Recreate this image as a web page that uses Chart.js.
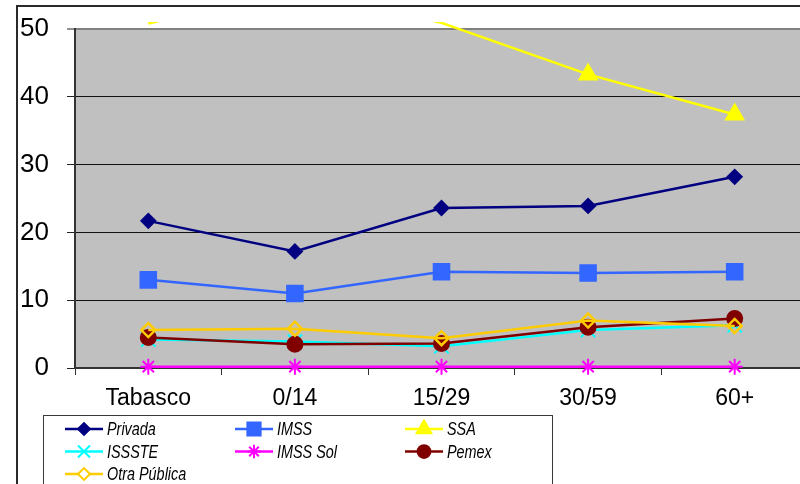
<!DOCTYPE html>
<html>
<head>
<meta charset="utf-8">
<script src="https://cdn.jsdelivr.net/npm/chart.js@4/dist/chart.umd.min.js"></script>
<style>
  html, body { margin: 0; padding: 0; background: #fff; overflow: hidden; width: 800px; height: 484px; }
  canvas { display: block; }
</style>
</head>
<body>
<canvas id="c" width="830" height="484"></canvas>
<script>
// Age groups on the horizontal axis
const categories = ['Tabasco', '0/14', '15/29', '30/59', '60+'];

// Share (%) by institution
const privada     = [21.7, 17.2, 23.6, 23.9, 28.2];
const imss        = [13.0, 11.0, 14.2, 14.0, 14.2];
const ssa         = [50.8, 56.0, 50.9, 43.3, 37.4];
const issste      = [4.2, 3.9, 3.2, 5.6, 6.3];
const imssSol     = [0.2, 0.2, 0.2, 0.2, 0.2];
const pemex       = [4.5, 3.5, 3.6, 6.0, 7.3];
const otraPublica = [5.6, 5.8, 4.4, 7.0, 6.2];

const yMin = 0, yMax = 50, yStep = 10;

const FONT = '"Liberation Sans", Arial, sans-serif';

const series = [
  { label: 'Privada',      data: privada,     color: '#000080', fill: '#000080', style: 'rectRot',  r: 7 },
  { label: 'IMSS',         data: imss,        color: '#3366FF', fill: '#3366FF', style: 'rect',     r: 11 },
  { label: 'SSA',          data: ssa,         color: '#FFFF00', fill: '#FFFF00', style: 'triangle', r: 10 },
  { label: 'ISSSTE',       data: issste,      color: '#00FFFF', fill: '#00FFFF', style: 'crossRot', r: 10 },
  { label: 'IMSS Sol',     data: imssSol,     color: '#FF00FF', fill: '#FF00FF', style: 'star',     r: 8 },
  { label: 'Pemex',        data: pemex,       color: '#800000', fill: '#800000', style: 'circle',   r: 7.5 },
  { label: 'Otra Pública', data: otraPublica, color: '#FFCC00', fill: 'rgba(0,0,0,0)', style: 'rectRot', r: 7 }
];

const datasets = series.map((s, i) => ({
  label: s.label,
  data: s.data,
  borderColor: s.color,
  backgroundColor: s.fill,
  borderWidth: 2.5,
  pointStyle: s.style,
  // points beyond the top of the value axis get no marker, only the clipped line
  pointRadius: ctx => (ctx.raw > yMax ? 0 : s.r),
  pointHoverRadius: s.r,
  pointBorderColor: s.color,
  pointBackgroundColor: s.fill,
  pointBorderWidth: s.style === 'rectRot' && s.fill !== s.color ? 2.5 : 2,
  tension: 0,
  fill: false,
  order: series.length - i,
  clip: { left: 10, top: 7, right: 10, bottom: 10 }
}));

// Frame, grey plot area and the boxed three-column legend
const decor = {
  id: 'decor',
  beforeDraw(chart) {
    const { ctx, chartArea: a } = chart;
    ctx.save();
    ctx.fillStyle = '#ffffff';
    ctx.fillRect(0, 0, chart.width, chart.height);
    ctx.strokeStyle = '#2a2a2a';
    ctx.lineWidth = 2;
    ctx.strokeRect(17, 6, chart.width + 20, chart.height + 20);
    ctx.fillStyle = '#C0C0C0';
    ctx.fillRect(a.left, a.top, a.right - a.left, a.bottom - a.top);
    ctx.restore();
  },
  afterDraw(chart) {
    const { ctx } = chart;
    ctx.save();
    ctx.fillStyle = '#ffffff';
    ctx.fillRect(43, 415, 509, 80);
    ctx.strokeStyle = '#3a3a3a';
    ctx.lineWidth = 1;
    ctx.strokeRect(43.5, 415.5, 509, 80);

    const colX = [65, 235, 405];
    const rowY = [429, 451.5, 474];
    chart.data.datasets.forEach((ds, i) => {
      const x = colX[i % 3];
      const y = rowY[Math.floor(i / 3)];
      ctx.strokeStyle = ds.borderColor;
      ctx.lineWidth = 2.5;
      ctx.beginPath();
      ctx.moveTo(x, y);
      ctx.lineTo(x + 38, y);
      ctx.stroke();
      const s = series[i];
      ctx.fillStyle = s.fill === 'rgba(0,0,0,0)' ? '#ffffff' : s.fill;
      ctx.strokeStyle = ds.borderColor;
      ctx.lineWidth = 2;
      Chart.helpers.drawPoint(ctx, { pointStyle: s.style, radius: s.r * 0.85, rotation: 0, borderWidth: 2 }, x + 19, y);
      // condensed italic legend text
      ctx.save();
      ctx.translate(x + 42, y + 1);
      ctx.scale(0.8, 1);
      ctx.fillStyle = '#000';
      ctx.font = 'italic 18px ' + FONT;
      ctx.textAlign = 'left';
      ctx.textBaseline = 'middle';
      ctx.fillText(ds.label, 0, 0);
      ctx.restore();
    });
    ctx.restore();
  }
};

new Chart(document.getElementById('c'), {
  type: 'line',
  data: { labels: categories, datasets },
  plugins: [decor],
  options: {
    responsive: false,
    devicePixelRatio: 1,
    animation: false,
    layout: { autoPadding: false, padding: { top: 29, right: 22, left: 0, bottom: 0 } },
    plugins: { legend: { display: false }, tooltip: { enabled: false } },
    scales: {
      x: {
        type: 'category',
        offset: true,
        afterFit: s => { s.height = 116; s.paddingLeft = 0; s.paddingRight = 0; },
        grid: { offset: true, drawOnChartArea: false, drawTicks: true, tickLength: 7, color: '#333', lineWidth: 1 },
        border: { display: true, color: '#333', width: 2 },
        ticks: { color: '#000', font: { family: FONT, size: 23 }, padding: 10, maxRotation: 0, autoSkip: false }
      },
      y: {
        min: yMin,
        max: yMax,
        afterFit: s => { s.width = 75; s.paddingTop = 0; s.paddingBottom = 0; },
        grid: {
          color: ctx => (ctx.tick && ctx.tick.value === yMax ? '#808080' : '#111'),
          lineWidth: ctx => (ctx.tick && ctx.tick.value === yMax ? 2 : 1),
          tickColor: '#222',
          tickWidth: 1,
          tickLength: 8,
          drawTicks: true
        },
        border: { display: true, color: '#333', width: 2 },
        ticks: { stepSize: yStep, color: '#000', font: { family: FONT, size: 26 }, padding: 18 }
      }
    }
  }
});
</script>
</body>
</html>
